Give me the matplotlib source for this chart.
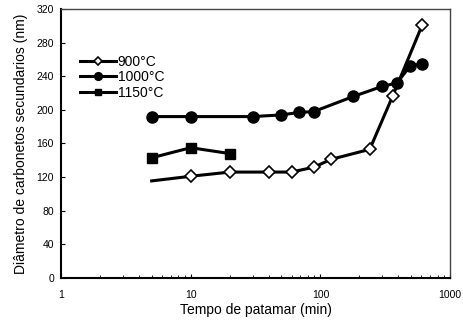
import matplotlib
matplotlib.use("Agg")
import matplotlib.pyplot as plt
from matplotlib.ticker import FixedLocator, NullFormatter

plt.rcParams['font.family'] = ['Liberation Sans', 'DejaVu Sans']

# Data
t900 = [5, 10, 20, 40, 60, 90, 120, 240, 360, 610]
d900 = [115.5, 121, 126, 126, 126, 132, 141, 153, 216, 301]
t1000 = [5, 10, 30, 50, 69, 89, 180, 300, 390, 490, 610]
d1000 = [192, 192, 192, 194, 197, 198, 216, 228, 232, 252, 255]
t1150 = [5, 10, 20]
d1150 = [143, 155, 148]

labels = ["900°C", "1000°C", "1150°C"]
xticks = [1, 10, 100, 1000]
xticklabels = ["1", "10", "100", "1000"]
yticks = [0, 40, 80, 120, 160, 200, 240, 280, 320]

fig = plt.figure(figsize=(4.64, 3.21), dpi=100)
ax = fig.add_axes([0.1315, 0.134, 0.8385, 0.838])

lw = 2.2
l1, = ax.plot(t900[1:], d900[1:], color='black', lw=lw, marker='D', ms=6,
              mfc='white', mec='black', mew=1.2, label=labels[0], zorder=3)
ax.plot(t900[:2], d900[:2], color='black', lw=lw, zorder=2)
l2, = ax.plot(t1000, d1000, color='black', lw=lw, marker='o', ms=8,
              mfc='black', mec='black', label=labels[1], zorder=3)
l3, = ax.plot(t1150, d1150, color='black', lw=lw, marker='s', ms=7,
              mfc='black', mec='black', label=labels[2], zorder=3)

ax.set_xscale('log')
ax.set_xlim(1, 1000)
ax.set_ylim(0, 320)
ax.xaxis.set_major_locator(FixedLocator(xticks))
ax.set_xticklabels(xticklabels)
ax.xaxis.set_minor_formatter(NullFormatter())
ax.set_yticks(yticks)
ax.tick_params(axis='both', which='both', direction='in', labelsize=7.5,
               top=False, right=False)
ax.tick_params(axis='x', which='major', length=3, pad=9)
ax.tick_params(axis='x', which='minor', length=2)
ax.tick_params(axis='y', which='major', length=3, pad=5)
for s in ['left', 'bottom']:
    ax.spines[s].set_linewidth(1.5)
for s in ['top', 'right']:
    ax.spines[s].set_linewidth(1.0)
    ax.spines[s].set_color('#444444')

ax.set_xlabel("Tempo de patamar (min)", fontsize=10, labelpad=2)
ax.set_ylabel("Diâmetro de carbonetos secundarios (nm)", fontsize=10, labelpad=6)

leg = ax.legend(handles=[l1, l2, l3], loc='upper left',
                bbox_to_anchor=(0.035, 0.85), frameon=False,
                fontsize=10, handlelength=2.6, handletextpad=0.1,
                labelspacing=0.1, borderaxespad=0, markerscale=0.7)

fig.savefig("out.png", dpi=100)
